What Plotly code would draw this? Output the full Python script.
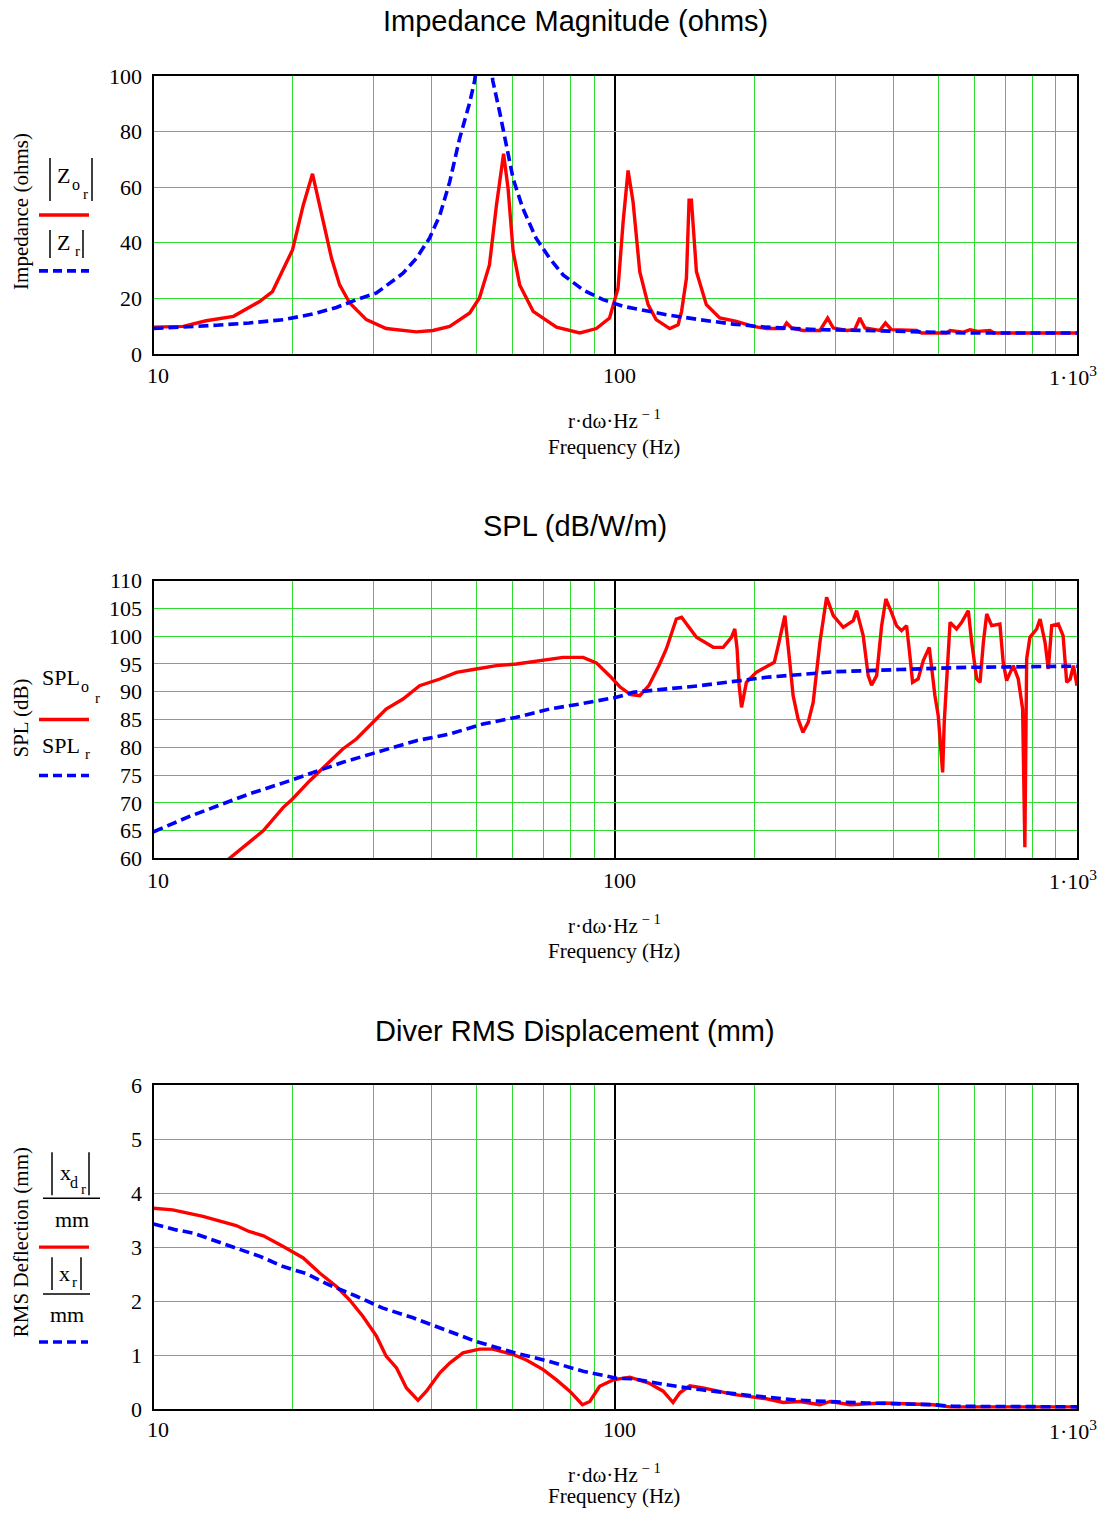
import plotly.graph_objects as go

# ---------------- data ----------------
# Impedance magnitude (ohms)
zo_f = [10, 11.6, 13.0, 14.9, 17.0, 18.1, 20.0, 21.1, 22.1, 23.1, 24.3, 25.3, 26.6, 28.9, 31.9,
        37.1, 40.3, 43.8, 48.4, 50.8, 53.4, 55.3, 57.3, 58.6, 60.1, 62.1, 66.4, 74.6, 83.8, 91.0,
        97.2, 101.4, 104.0, 106.6, 109.3, 113.0, 117.8, 122.6, 131.2, 136.8, 139.2, 142.6, 144.5,
        146.2, 149.9, 157.5, 168.4, 183, 198.9, 212.6, 231, 235, 241, 255, 277.5, 288.4, 296.6,
        317, 330, 338.6, 347.3, 374, 384.7, 396.4, 449.5, 460.9, 522, 530.9, 567.5, 586.6, 610,
        648, 660, 1000]
zo_v = [9.6, 9.9, 11.9, 13.5, 18.9, 22.4, 37.4, 53.5, 64.8, 51, 34.4, 24.8, 18.3, 12.3, 9.1,
        7.9, 8.4, 9.9, 14.7, 20.1, 32, 53.5, 72, 59.5, 36.8, 24.8, 15.3, 9.6, 7.5, 9.1,
        12.9, 23.6, 47.5, 66, 54.7, 29.6, 17.7, 12.3, 9.1, 10.5, 15.3, 27.2, 55.3,
        55.3, 29.6, 17.7, 12.9, 11.7, 9.9, 9.1, 9.1, 11.1, 9.3, 8.4, 8.4, 12.9, 9.3,
        8.4, 8.7, 12.9, 9.3, 8.4, 11.1, 8.7, 8.4, 7.5, 7.5, 8.4, 7.8, 8.7, 8.1,
        8.4, 7.5, 7.5]

z_f = [10, 11.6, 13.7, 16.1, 19.1, 22.1, 24.9, 27.5, 30.4, 34.7, 37.1, 39.6, 41.7, 43.8, 46.0,
       48.4, 49.6, 52.0, 54.3, 56.2, 58.1, 60.1, 63.1, 67.4, 72.1, 77.1, 85.2, 94.1, 104.0, 116.7,
       129, 152.4, 180, 212.6, 272.8, 350, 449.5, 576, 1000]
z_v = [9.1, 9.6, 10.3, 11.1, 12.3, 14.3, 16.7, 19.5, 21.9, 29, 34.4, 41.6, 49.9, 61.9, 77.4,
       90.5, 98.3, 125, 98.3, 87, 75, 63, 52.3, 41.6, 34.4, 28.4, 23, 19.5, 17.1, 15.5,
       14.1, 12.3, 10.7, 9.6, 8.7, 8.4, 7.9, 7.5, 7.5]

# SPL (dB/W/m)
spo_f = [14.5, 16.1, 17.3, 19.1, 20.0, 21.8, 23.7, 25.7, 27.5, 29.4, 31.9, 34.7, 37.7, 41.7, 45.3,
         50.0, 55.3, 61.1, 69.8, 77.1, 85.2, 91.0, 97.2, 102.3, 108.0, 113.0, 118.2, 124.3, 129.0,
         135.6, 139.2, 149.9, 163.0, 171.3, 178.5, 181.5, 183.6, 185.5, 187.7, 192.3, 202.0, 221.0,
         225.4, 233.0, 238.8, 242.8, 248.9, 255.0, 261.7, 268.3, 277.5, 286.9, 296.6, 311.7, 327.7,
         333.2, 344.3, 353.0, 359.0, 368.2, 377.5, 385.5, 396.4, 406.5, 416.9, 427.5, 434.6, 440.5,
         453.0, 464.6, 478.7, 484.2, 492.4, 500.6, 506.6, 511.7, 515.8, 522.0, 531.0, 548.3, 562.7,
         581.6, 591.5, 606.5, 616.6, 626.9, 637.5, 653.3, 680.8, 692.1, 704.0, 727.8, 746.0, 762.5,
         767.4, 771.0, 778.0, 790.8, 817.8, 831.8, 852.6, 866.9, 881.5, 911.0, 933.0, 950.0, 966.6,
         982.4, 1000]
spo_v = [59.8, 62.9, 65.0, 69.2, 70.7, 74.0, 77.0, 79.7, 81.5, 83.9, 86.9, 88.7, 91.1, 92.3, 93.5,
         94.1, 94.7, 95.0, 95.6, 96.2, 96.2, 95.2, 92.9, 90.9, 89.5, 89.3, 91.1, 94.7, 97.7,
         103.1, 103.4, 99.8, 98.0, 98.0, 99.8, 101.3, 97.7, 91.1, 87.2, 91.7, 93.5, 95.3,
         98.3, 103.7, 95.3, 89.3, 85.1, 82.7, 84.5, 88.1, 98.9, 107.0, 103.7, 101.6, 102.8,
         104.6, 100.1, 92.9, 91.2, 92.9, 101.9, 106.7, 104.3, 101.9, 101.0, 101.9, 96.5, 91.7,
         92.3, 95.6, 98.0, 94.4, 89.3, 85.7, 79.7, 75.5, 84.5, 92.9, 102.5, 101.3, 102.5,
         104.6, 98.9, 92.3, 91.7, 98.9, 104.0, 101.9, 102.2, 95.3, 92.0, 94.7, 92.3, 86.9,
         74.9, 62.0, 95.9, 99.8, 101.3, 103.1, 98.9, 94.1, 101.9, 102.2, 100.1, 91.7, 92.3,
         94.7, 91.1]

sp_f = [10, 12.0, 13.9, 16.1, 19.1, 22.1, 25.7, 30.4, 37.1, 43.8, 51.7, 61.1, 72.1, 85.2, 100.6,
        109.3, 152.4, 212.6, 296.6, 413.5, 576, 1000]
sp_v = [64.8, 67.6, 69.6, 71.6, 73.6, 75.5, 77.3, 79.1, 81.2, 82.4, 84.2, 85.4, 86.9, 87.9, 89.0,
        89.9, 91.1, 92.6, 93.6, 94.0, 94.4, 94.6]

# RMS displacement (mm)
xd_f = [10, 11.0, 12.8, 15.1, 16.1, 17.3, 19.1, 21.1, 22.9, 24.9, 26.6, 28.4, 30.4, 31.9, 33.6,
        35.3, 37.4, 39.0, 41.7, 43.8, 46.8, 50.8, 54.3, 60.1, 64.2, 69.8, 74.6, 79.7, 84.9, 88.1,
        92.5, 98.9, 107.5, 118.2, 127.0, 133.4, 138.0, 145.0, 154.9, 180, 212.6, 231, 251, 277.5,
        292.3, 322.9, 380.4, 488.3, 531, 1000]
xd_v = [3.72, 3.69, 3.57, 3.40, 3.29, 3.21, 3.01, 2.80, 2.52, 2.27, 2.02, 1.72, 1.35, 0.98, 0.76,
        0.39, 0.16, 0.33, 0.67, 0.85, 1.04, 1.11, 1.11, 1.01, 0.91, 0.73, 0.54, 0.33, 0.08, 0.14,
        0.42, 0.54, 0.59, 0.48, 0.33, 0.12, 0.30, 0.43, 0.39, 0.27, 0.19, 0.12, 0.14, 0.08,
        0.14, 0.08, 0.11, 0.08, 0.04, 0.04]

xr_f = [10, 11.2, 12.2, 13.7, 15.1, 17.0, 19.1, 21.4, 24.0, 27.5, 31.4, 36.5, 42.4, 50.0, 60.1,
        72.1, 85.2, 94.1, 100.6, 109.3, 129, 152.4, 195.6, 251, 350, 488.3, 539.5, 1000]
xr_v = [3.43, 3.32, 3.26, 3.10, 2.98, 2.83, 2.64, 2.51, 2.30, 2.09, 1.87, 1.69, 1.48, 1.25, 1.05,
        0.88, 0.70, 0.63, 0.57, 0.56, 0.45, 0.36, 0.25, 0.16, 0.11, 0.08, 0.05, 0.04]

x_tickvals = [10, 100, 1000]
x_ticktext = ["10", "100", "1·10<sup>3</sup>"]
x_minor = [20, 30, 40, 50, 60, 70, 80, 90, 200, 300, 400, 500, 600, 700, 800, 900]

titles = ["Impedance Magnitude (ohms)", "SPL (dB/W/m)", "Diver RMS Displacement (mm)"]
y_titles = ["Impedance (ohms)", "SPL (dB)", "RMS Deflection (mm)"]
y_ranges = [[0, 100], [60, 110], [0, 6]]
y_ticks = [list(range(0, 101, 20)), list(range(60, 111, 5)), list(range(0, 7))]

# ---------------- styling / layout ----------------
W, H = 1109, 1518
# measured mapping of figure pixels to the photographed picture (vertical only)
SY, OY = 0.9843, 10.9
RED, BLUE, GREEN = "#ff0000", "#0000ff", "#2fdc2f"
SERIF = "Liberation Serif, Times New Roman, serif"
SANS = "Liberation Sans, Arial, sans-serif"
DASH = "10px,5px"


def X(p):
    return p / W


def Y(p):
    return 1 - ((p - OY) / SY) / H


# target picture pixels: plotting-area top / bottom and text rows of each panel
panels = [
    dict(top=75, bot=353, title_y=20, xt=375, xlab1=419, xlab2=446),
    dict(top=580, bot=858, title_y=525, xt=880, xlab1=924, xlab2=951),
    dict(top=1085, bot=1409, title_y=1031, xt=1430, xlab1=1474, xlab2=1496),
]
PL, PR = 153.5, 1077
XT_POS = [158, 619, 1073]

fig = go.Figure()
series = [(0, zo_f, zo_v, z_f, z_v), (1, spo_f, spo_v, sp_f, sp_v), (2, xd_f, xd_v, xr_f, xr_v)]
for i, rf, rv, bf, bv in series:
    sfx = "" if i == 0 else str(i + 1)
    fig.add_trace(go.Scatter(x=rf, y=rv, mode="lines", line=dict(color=RED, width=3.4),
                             xaxis="x" + sfx, yaxis="y" + sfx, showlegend=False))
    fig.add_trace(go.Scatter(x=bf, y=bv, mode="lines", line=dict(color=BLUE, width=3.6, dash=DASH),
                             xaxis="x" + sfx, yaxis="y" + sfx, showlegend=False))

layout = dict(width=W, height=H, margin=dict(l=0, r=0, t=0, b=0),
              paper_bgcolor="white", plot_bgcolor="white", showlegend=False)
for i, p in enumerate(panels):
    sfx = "" if i == 0 else str(i + 1)
    layout["xaxis" + sfx] = dict(
        type="log", range=[1, 3], domain=[X(PL), X(PR)], anchor="y" + sfx,
        tickmode="array", tickvals=x_tickvals, showticklabels=False, ticks="",
        showgrid=True, gridcolor="black", gridwidth=2,
        minor=dict(tickmode="array", tickvals=x_minor, showgrid=True, gridcolor=GREEN,
                   gridwidth=1, ticks=""),
        showline=True, linecolor="black", linewidth=2, mirror=True, zeroline=False,
    )
    layout["yaxis" + sfx] = dict(
        range=y_ranges[i], domain=[Y(p["bot"]), Y(p["top"])], anchor="x" + sfx,
        tickmode="array", tickvals=y_ticks[i], ticks="",
        showgrid=True, gridcolor=GREEN, gridwidth=1,
        showline=True, linecolor="black", linewidth=2, mirror=True, zeroline=False,
        tickfont=dict(family=SERIF, size=22, color="black"), ticklabelstandoff=5,
    )
fig.update_layout(**layout)


def txt(x, y, s, size=22, family=SERIF, angle=0, xanchor="center"):
    fig.add_annotation(x=X(x), y=Y(y), xref="paper", yref="paper", text=s, showarrow=False,
                       font=dict(family=family, size=size, color="black"), textangle=angle,
                       xanchor=xanchor, yanchor="middle")


def seg(x0, y0, x1, y1, color="black", width=1.5, dash=None):
    fig.add_shape(type="line", xref="paper", yref="paper", x0=X(x0), y0=Y(y0), x1=X(x1), y1=Y(y1),
                  line=dict(color=color, width=width, dash=dash))


for i, p in enumerate(panels):
    txt(575, p["title_y"], titles[i], size=29, family=SANS)
    for xp, t in zip(XT_POS, x_ticktext):
        txt(xp, p["xt"], t, size=22)
    txt(615, p["xlab1"], "r·dω·Hz<sup> − 1</sup>", size=21)
    txt(614, p["xlab2"], "Frequency (Hz)", size=21)

# y titles
txt(21, 211, y_titles[0], angle=-90, size=21)
txt(21, 718, y_titles[1], angle=-90, size=21)
txt(21, 1242, y_titles[2], angle=-90, size=21)

# ---- trace labels, panel 1
seg(50, 157, 50, 200); seg(92, 157, 92, 200)
txt(63, 175, "Z", size=22); txt(76, 184, "o", size=16); txt(85, 193, "r", size=15)
seg(39, 214, 89, 214, color=RED, width=3.4)
seg(50, 229, 50, 257); seg(83, 229, 83, 257)
txt(63, 242, "Z", size=22); txt(77, 250, "r", size=15)
seg(39, 270, 89, 270, color=BLUE, width=3.6, dash="9px,5px")

# ---- trace labels, panel 2
txt(61, 677, "SPL", size=22); txt(85, 686, "o", size=16); txt(97, 697, "r", size=15)
seg(39, 719, 89, 719, color=RED, width=3.4)
txt(61, 745, "SPL", size=22); txt(87, 753, "r", size=15)
seg(39, 775, 89, 775, color=BLUE, width=3.6, dash="9px,5px")

# ---- trace labels, panel 3
seg(52, 1152, 52, 1195); seg(89, 1152, 89, 1195)
txt(65, 1172, "x", size=22); txt(74, 1182, "d", size=16); txt(83, 1189, "r", size=15)
seg(43, 1198, 100, 1198, width=1.5)
txt(72, 1219, "mm", size=22)
seg(39, 1247, 89, 1247, color=RED, width=3.4)
seg(52, 1257, 52, 1290); seg(81, 1257, 81, 1290)
txt(64, 1273, "x", size=22); txt(75, 1282, "r", size=15)
seg(43, 1294, 90, 1294, width=1.5)
txt(67, 1314, "mm", size=22)
seg(39, 1342, 88, 1342, color=BLUE, width=3.6, dash="9px,5px")

fig.write_html("out.html")
